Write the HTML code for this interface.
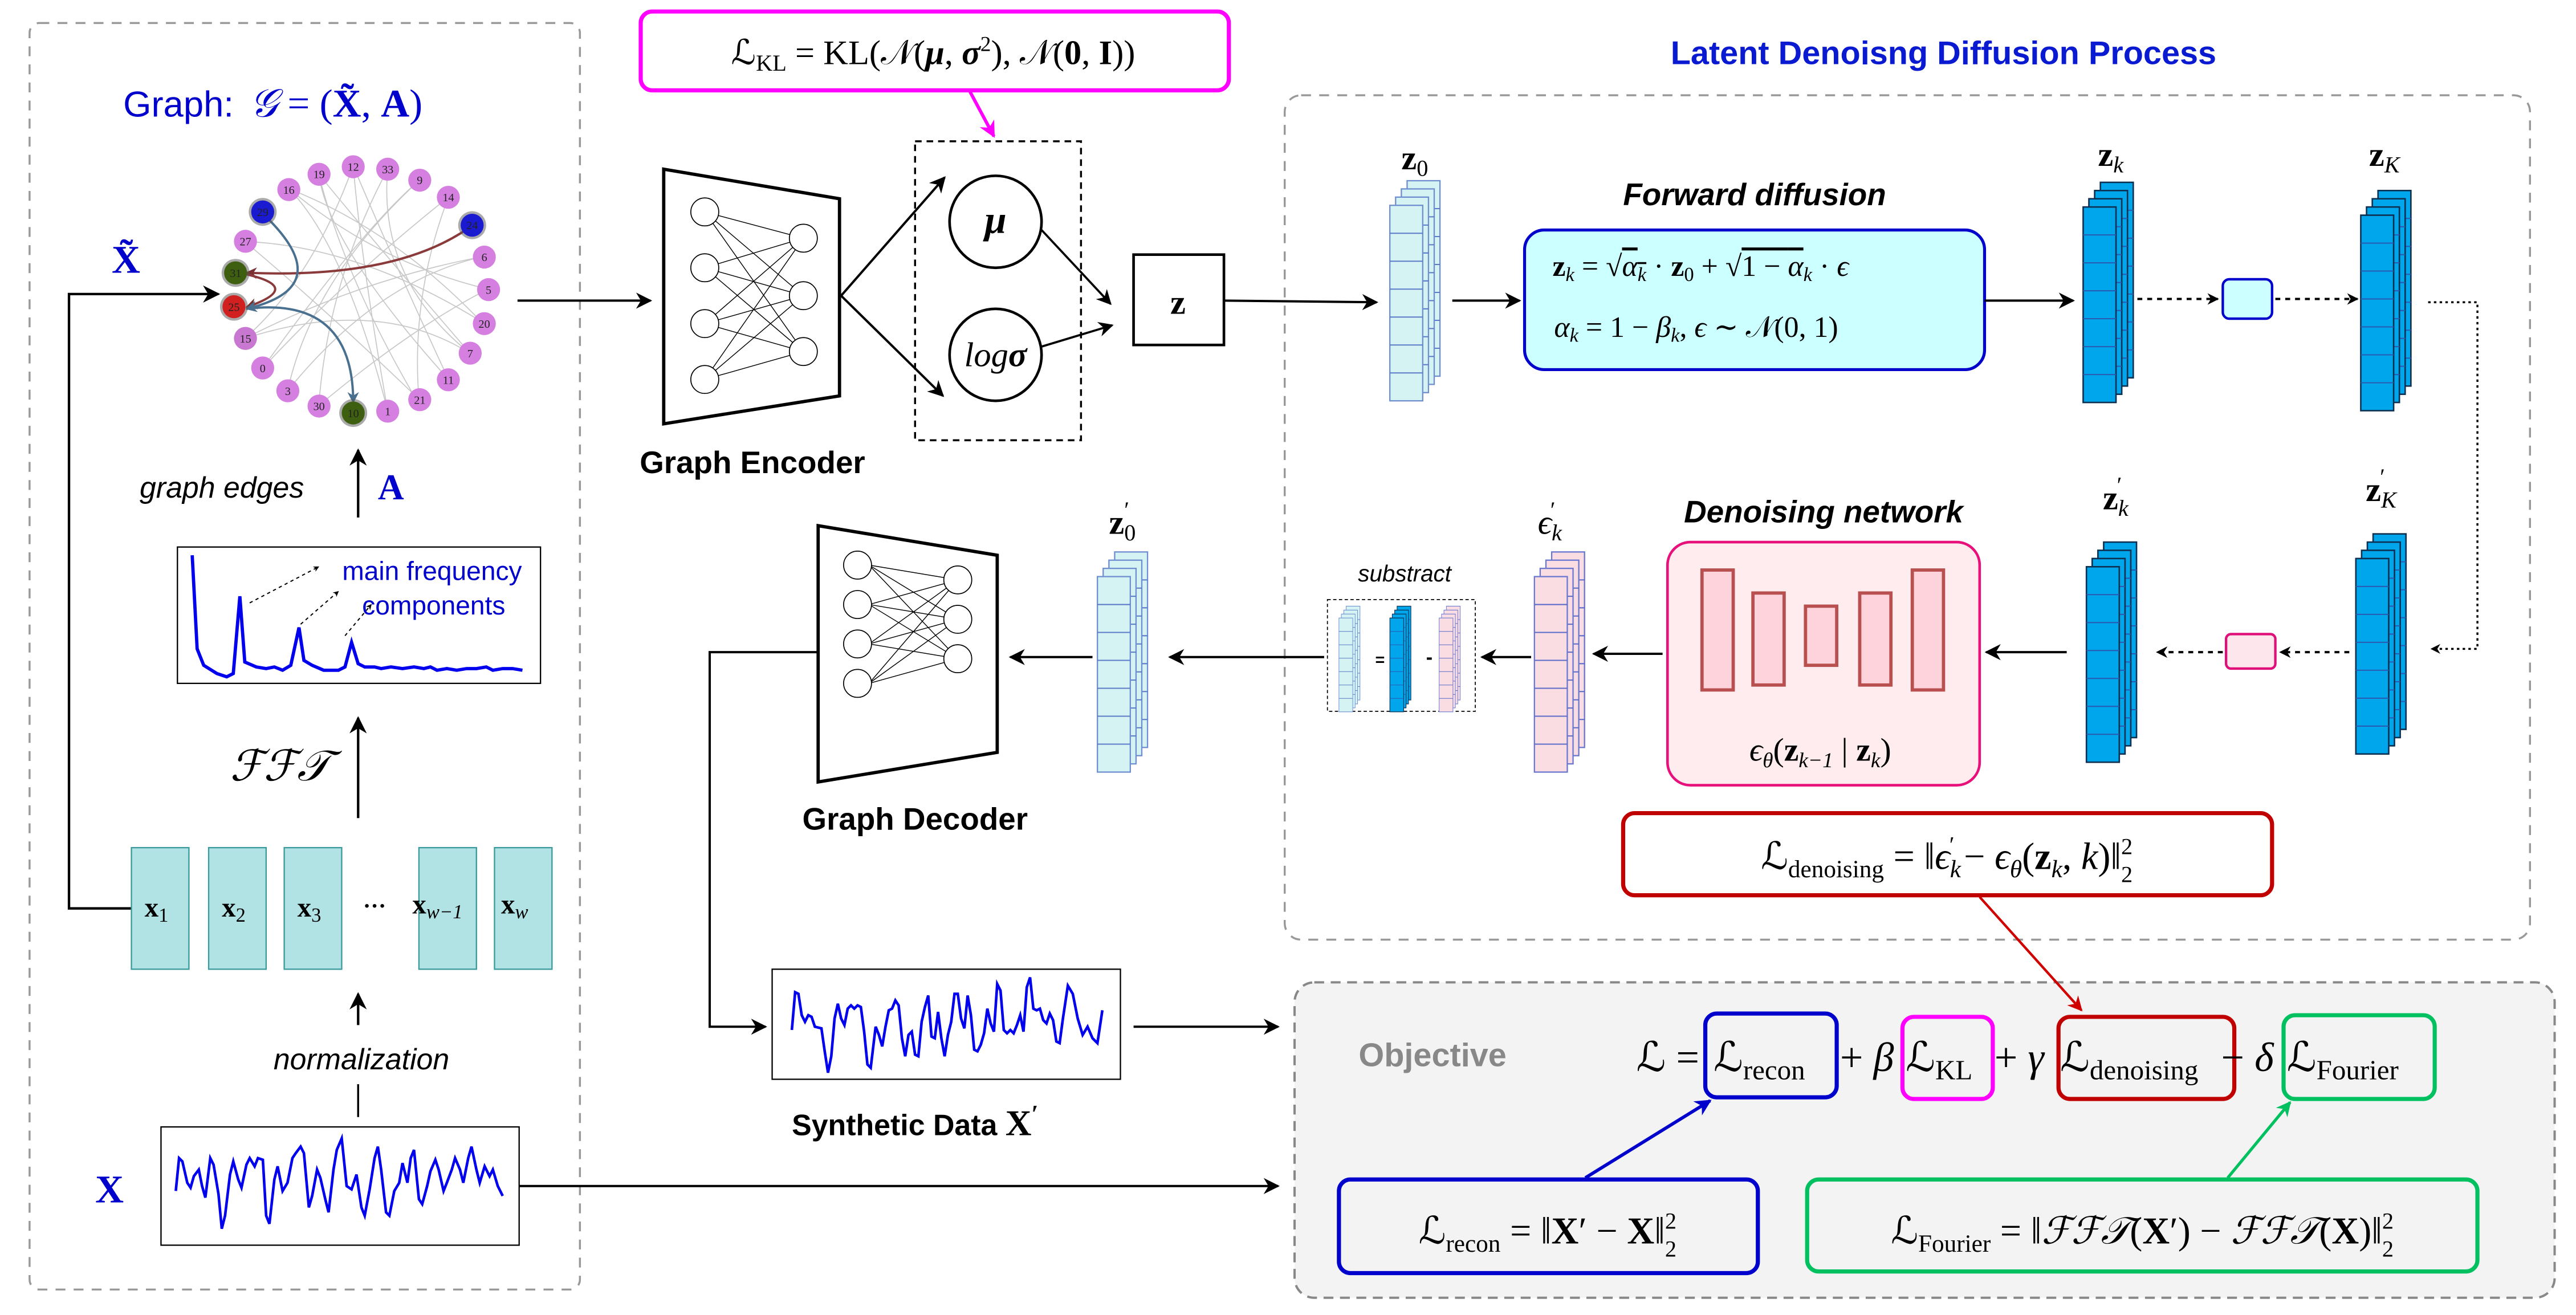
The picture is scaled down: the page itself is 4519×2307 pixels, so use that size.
<!DOCTYPE html>
<html><head><meta charset="utf-8"><style>
html,body{margin:0;padding:0;background:#fff;}
svg{display:block;}
.m{font-family:"Liberation Serif","DejaVu Serif",serif;}
.s{font-family:"Liberation Sans","DejaVu Sans",sans-serif;}
</style></head><body>
<svg width="4519" height="2307" viewBox="0 0 1568 800.5" preserveAspectRatio="none" xmlns="http://www.w3.org/2000/svg">
<defs>
<marker id="ah" viewBox="0 0 10 10" refX="9" refY="5" markerWidth="7" markerHeight="7" orient="auto-start-reverse"><path d="M0,0 L10,5 L0,10 L3,5 z" fill="#000"/></marker>
<marker id="ahs" viewBox="0 0 10 10" refX="9" refY="5" markerWidth="5" markerHeight="5" orient="auto"><path d="M0,0 L10,5 L0,10 L3,5 z" fill="#000"/></marker>
<marker id="ahm" viewBox="0 0 10 10" refX="9" refY="5" markerWidth="5" markerHeight="5" orient="auto"><path d="M0,0 L10,5 L0,10 L3,5 z" fill="#ff00ff"/></marker>
<marker id="ahr" viewBox="0 0 10 10" refX="9" refY="5" markerWidth="6" markerHeight="6" orient="auto"><path d="M0,0 L10,5 L0,10 L3,5 z" fill="#d00000"/></marker>
<marker id="ahb" viewBox="0 0 10 10" refX="9" refY="5" markerWidth="5" markerHeight="5" orient="auto"><path d="M0,0 L10,5 L0,10 L3,5 z" fill="#0000cc"/></marker>
<marker id="ahg" viewBox="0 0 10 10" refX="9" refY="5" markerWidth="5" markerHeight="5" orient="auto"><path d="M0,0 L10,5 L0,10 L3,5 z" fill="#00c060"/></marker>
<marker id="ahbr" viewBox="0 0 10 10" refX="9" refY="5" markerWidth="5" markerHeight="5" orient="auto"><path d="M0,0 L10,5 L0,10 L3,5 z" fill="#7a3030"/></marker>
<marker id="ahst" viewBox="0 0 10 10" refX="9" refY="5" markerWidth="5" markerHeight="5" orient="auto"><path d="M0,0 L10,5 L0,10 L3,5 z" fill="#4a7090"/></marker>
<g id="layL"><rect x="0" y="0" width="20" height="119" fill="#d6f3f3" stroke="#6f8fd0" stroke-width="0.8"/><path d="M0,17H20M0,34H20M0,51H20M0,68H20M0,85H20M0,102H20" stroke="#5a7ac8" stroke-width="0.7"/></g>
<g id="stkL"><use href="#layL" x="10.5" y="0"/><use href="#layL" x="7" y="5"/><use href="#layL" x="3.5" y="10"/><use href="#layL" x="0" y="15"/></g>
<g id="layB"><rect x="0" y="0" width="20" height="119" fill="#00a6ec" stroke="#0d2f50" stroke-width="0.9"/><path d="M0,17H20M0,34H20M0,51H20M0,68H20M0,85H20M0,102H20" stroke="#2a5ab0" stroke-width="0.7"/></g>
<g id="stkB"><use href="#layB" x="10.5" y="0"/><use href="#layB" x="7" y="5"/><use href="#layB" x="3.5" y="10"/><use href="#layB" x="0" y="15"/></g>
<g id="layP"><rect x="0" y="0" width="20" height="119" fill="#f9dde3" stroke="#6a78d0" stroke-width="0.8"/><path d="M0,17H20M0,34H20M0,51H20M0,68H20M0,85H20M0,102H20" stroke="#5a6ac8" stroke-width="0.7"/></g>
<g id="stkP"><use href="#layP" x="10.5" y="0"/><use href="#layP" x="7" y="5"/><use href="#layP" x="3.5" y="10"/><use href="#layP" x="0" y="15"/></g>
</defs>

<!-- Left dashed panel -->
<rect x="18" y="14" width="335" height="771" rx="6" fill="none" stroke="#999" stroke-width="1.2" stroke-dasharray="6,5"/>
<text x="75" y="71" class="s" font-size="22" fill="#0000cc">Graph:</text>
<text x="152" y="71" class="m" font-size="24" fill="#0000cc" font-style="italic">𝒢</text>
<text x="175" y="71" class="m" font-size="24" fill="#0000cc">= (<tspan font-weight="bold">X̃</tspan>, <tspan font-weight="bold">A</tspan>)</text>
<text x="68" y="166" class="m" font-size="24" fill="#0000cc" font-weight="bold">X̃</text>

<g stroke="#c8c8c8" stroke-width="0.6" fill="none">
<path d="M194,106 Q210,170 255,246"/><path d="M215,101 Q220,160 236,250"/><path d="M236,103 Q200,170 194,247"/>
<path d="M255,110 Q190,170 175,238"/><path d="M273,120 Q210,170 160,224"/><path d="M176,115 Q230,160 297,176"/>
<path d="M149,147 Q220,150 295,197"/><path d="M295,156 Q220,170 149,206"/><path d="M286,215 Q230,150 194,106"/>
<path d="M273,231 Q240,160 215,101"/><path d="M255,243 Q250,180 273,120"/><path d="M236,250 Q210,150 176,115"/>
<path d="M160,224 Q220,140 255,110"/><path d="M149,206 Q230,180 286,215"/><path d="M176,115 Q240,140 294,197"/>
<path d="M194,106 Q200,150 273,231"/><path d="M236,103 Q230,170 286,215"/><path d="M215,101 Q190,170 149,206"/>
<path d="M175,238 Q230,170 295,156"/><path d="M194,247 Q250,200 297,176"/><path d="M149,147 Q200,190 255,243"/>
</g>
<path d="M285,139 Q240,170 150,166" fill="none" stroke="#8a3a3a" stroke-width="1.4" marker-end="url(#ahbr)"/>
<path d="M150,167 Q185,175 150,187" fill="none" stroke="#8a3a3a" stroke-width="1.4" marker-end="url(#ahbr)"/>
<path d="M163,133 Q205,175 150,188" fill="none" stroke="#4a7090" stroke-width="1.4" marker-end="url(#ahst)"/>
<path d="M150,188 Q215,180 215,245" fill="none" stroke="#4a7090" stroke-width="1.4" marker-end="url(#ahst)"/>
<g class="m" font-size="7" text-anchor="middle" fill="#222">
<g fill="#d580e0">
<circle cx="194.2" cy="106.1" r="7"/><circle cx="215" cy="101.5" r="7"/><circle cx="236" cy="103" r="7"/><circle cx="255.5" cy="109.7" r="7"/>
<circle cx="272.9" cy="120.1" r="7"/><circle cx="294.8" cy="156.5" r="7"/><circle cx="297.4" cy="176.3" r="7"/><circle cx="294.8" cy="197" r="7"/>
<circle cx="286.2" cy="215" r="7"/><circle cx="272.9" cy="231.2" r="7"/><circle cx="255.5" cy="243.3" r="7"/><circle cx="236" cy="250.3" r="7"/>
<circle cx="194.2" cy="247.2" r="7"/><circle cx="175.2" cy="237.9" r="7"/><circle cx="159.9" cy="224" r="7"/><circle cx="149.4" cy="206" r="7" fill="#c878d0"/>
<circle cx="149.4" cy="146.9" r="7"/><circle cx="175.8" cy="115.4" r="7"/>
</g>
<circle cx="287.4" cy="137.1" r="8.5" fill="#555" opacity="0.5"/><circle cx="287.4" cy="137.1" r="7" fill="#1a1ad0"/>
<circle cx="159.9" cy="129" r="8.5" fill="#555" opacity="0.5"/><circle cx="159.9" cy="129" r="7" fill="#1a1ad0"/>
<circle cx="215" cy="251.4" r="8.5" fill="#555" opacity="0.5"/><circle cx="215" cy="251.4" r="7" fill="#3f5f10"/>
<circle cx="143.4" cy="166.1" r="8.5" fill="#555" opacity="0.5"/><circle cx="143.4" cy="166.1" r="7" fill="#3f5f10"/>
<circle cx="142.4" cy="186.7" r="8.5" fill="#555" opacity="0.5"/><circle cx="142.4" cy="186.7" r="7" fill="#d02020"/>
<text x="194.2" y="108.5">19</text><text x="215" y="104">12</text><text x="236" y="105.5">33</text><text x="255.5" y="112">9</text>
<text x="272.9" y="122.5">14</text><text x="287.4" y="139.5">24</text><text x="294.8" y="159">6</text><text x="297.4" y="178.8">5</text>
<text x="294.8" y="199.5">20</text><text x="286.2" y="217.5">7</text><text x="272.9" y="233.7">11</text><text x="255.5" y="245.8">21</text>
<text x="236" y="252.8">1</text><text x="215" y="254">10</text><text x="194.2" y="249.7">30</text><text x="175.2" y="240.4">3</text>
<text x="159.9" y="226.5">0</text><text x="149.4" y="208.5">15</text><text x="142.4" y="189.2">25</text><text x="143.4" y="168.6">31</text>
<text x="149.4" y="149.4">27</text><text x="159.9" y="131.5">29</text><text x="175.8" y="118">16</text>
</g>

<polyline points="80,553 42,553 42,179 133,179" fill="none" stroke="#000" stroke-width="1.5" marker-end="url(#ah)"/>
<line x1="218" y1="315" x2="218" y2="274" stroke="#000" stroke-width="1.5" marker-end="url(#ah)"/>
<text x="85" y="303" class="s" font-size="18" font-style="italic">graph edges</text>
<text x="230" y="304" class="m" font-size="22" font-weight="bold" fill="#0000cc">A</text>

<rect x="108" y="333" width="221" height="83" fill="#fff" stroke="#000" stroke-width="0.8"/>
<polyline points="117,338 120,395 124,405 132,410 138,412 142,410 146,363 149,403 156,406 162,407 167,406 172,408 177,405 182,382 185,402 190,405 197,408 206,408 210,406 214,391 218,404 222,406 228,406 232,407 238,406 245,407 252,406 258,407 262,406 266,408 272,407 278,408 284,407 290,407 296,406 300,408 306,407 312,407 318,408" fill="none" stroke="#0000ee" stroke-width="2"/>
<text x="263" y="353" class="s" font-size="16" fill="#0000cc" text-anchor="middle">main frequency</text>
<text x="264" y="374" class="s" font-size="16" fill="#0000cc" text-anchor="middle">components</text>
<g stroke="#000" stroke-width="0.7" stroke-dasharray="2,2" fill="none">
<line x1="152" y1="367" x2="194" y2="345" marker-end="url(#ahs)"/>
<line x1="183" y1="380" x2="206" y2="360" marker-end="url(#ahs)"/>
<line x1="210" y1="387" x2="226" y2="368" marker-end="url(#ahs)"/>
</g>

<line x1="218" y1="498" x2="218" y2="437" stroke="#000" stroke-width="1.5" marker-end="url(#ah)"/>
<text x="140" y="475" class="m" font-size="26" font-style="italic">ℱℱ𝒯</text>

<g fill="#b1e2e4" stroke="#3a9a9c" stroke-width="0.8">
<rect x="80" y="516" width="35" height="74"/><rect x="127" y="516" width="35" height="74"/><rect x="173" y="516" width="35" height="74"/>
<rect x="255" y="516" width="35" height="74"/><rect x="301" y="516" width="35" height="74"/>
</g>
<g class="m" font-size="17" font-weight="bold">
<text x="88" y="558">x<tspan font-size="12" font-weight="normal" dy="3">1</tspan></text>
<text x="135" y="558">x<tspan font-size="12" font-weight="normal" dy="3">2</tspan></text>
<text x="181" y="558">x<tspan font-size="12" font-weight="normal" dy="3">3</tspan></text>
<text x="221" y="556" font-size="14">···</text>
<text x="251" y="556">x<tspan font-size="12" font-weight="normal" font-style="italic" dy="3">w−1</tspan></text>
<text x="305" y="556">x<tspan font-size="12" font-weight="normal" font-style="italic" dy="3">w</tspan></text>
</g>

<line x1="218" y1="624" x2="218" y2="605" stroke="#000" stroke-width="1.5" marker-end="url(#ah)"/>
<text x="220" y="651" class="s" font-size="18" font-style="italic" text-anchor="middle">normalization</text>
<line x1="218" y1="660" x2="218" y2="680" stroke="#000" stroke-width="1.2"/>

<text x="58" y="732" class="m" font-size="24" font-weight="bold" fill="#0000cc">X</text>
<rect x="98" y="686" width="218" height="72" fill="#fff" stroke="#000" stroke-width="0.8"/>
<polyline points="107,725 109,705 111,707 114,720 116,723 118,716 121,712 123,722 125,729 128,705 130,709 133,727 135,748 137,740 140,715 142,707 145,718 147,723 150,709 152,705 155,710 157,705 160,706 162,740 164,745 167,718 169,710 172,725 175,720 178,705 180,702 183,698 185,702 188,735 190,728 193,712 195,717 198,730 200,738 203,712 205,700 208,693 211,722 214,724 217,715 220,735 222,740 225,724 228,705 230,698 232,712 235,738 237,740 240,725 243,720 245,708 248,720 250,705 252,700 255,730 257,733 260,722 262,713 265,706 267,712 270,725 272,720 275,712 277,705 280,712 282,720 285,705 287,698 290,712 292,720 295,710 298,716 300,712 303,722 306,728" fill="none" stroke="#0000ee" stroke-width="1.6"/>
<line x1="316" y1="722" x2="778" y2="722" stroke="#000" stroke-width="1.4" marker-end="url(#ah)"/>

<rect x="390" y="7" width="358" height="48" rx="7" fill="#fff" stroke="#ff00ff" stroke-width="2.5"/>
<text x="568" y="39" class="m" font-size="21" text-anchor="middle">ℒ<tspan font-size="14" dy="4">KL</tspan><tspan dy="-4"> = KL(𝒩(<tspan font-weight="bold" font-style="italic">μ</tspan>, <tspan font-weight="bold" font-style="italic">σ</tspan><tspan font-size="13" dy="-8">2</tspan><tspan dy="8">), 𝒩(</tspan><tspan font-weight="bold">0</tspan>, <tspan font-weight="bold">I</tspan>))</tspan></text>
<line x1="590" y1="55" x2="605" y2="83" stroke="#ff00ff" stroke-width="2" marker-end="url(#ahm)"/>

<line x1="315" y1="183" x2="396" y2="183" stroke="#000" stroke-width="1.4" marker-end="url(#ah)"/>

<polygon points="404,103 511,121 511,241 404,258" fill="#fff" stroke="#000" stroke-width="2"/>
<g stroke="#000" stroke-width="0.5" fill="none">
<path d="M429,129L489,145M429,129L489,180M429,129L489,214M429,163L489,145M429,163L489,180M429,163L489,214M429,197L489,145M429,197L489,180M429,197L489,214M429,231L489,145M429,231L489,180M429,231L489,214"/>
</g>
<g fill="#fff" stroke="#000" stroke-width="0.6">
<circle cx="429" cy="129" r="8.5"/><circle cx="429" cy="163" r="8.5"/><circle cx="429" cy="197" r="8.5"/><circle cx="429" cy="231" r="8.5"/>
<circle cx="489" cy="145" r="8.5"/><circle cx="489" cy="180" r="8.5"/><circle cx="489" cy="214" r="8.5"/>
</g>
<text x="458" y="288" class="s" font-size="19" font-weight="bold" text-anchor="middle">Graph Encoder</text>

<rect x="557" y="86" width="101" height="182" fill="none" stroke="#000" stroke-width="1.2" stroke-dasharray="4,3"/>
<circle cx="606" cy="135" r="28" fill="#fff" stroke="#000" stroke-width="1.6"/>
<circle cx="606" cy="216" r="28" fill="#fff" stroke="#000" stroke-width="1.6"/>
<text x="606" y="142" class="m" font-size="24" font-style="italic" font-weight="bold" text-anchor="middle">μ</text>
<text x="606" y="223" class="m" font-size="21" font-style="italic" text-anchor="middle">log<tspan font-weight="bold">σ</tspan></text>
<line x1="512" y1="180" x2="575" y2="108" stroke="#000" stroke-width="1.4" marker-end="url(#ah)"/>
<line x1="512" y1="180" x2="574" y2="241" stroke="#000" stroke-width="1.4" marker-end="url(#ah)"/>
<line x1="634" y1="140" x2="676" y2="185" stroke="#000" stroke-width="1.3" marker-end="url(#ah)"/>
<line x1="634" y1="211" x2="677" y2="198" stroke="#000" stroke-width="1.3" marker-end="url(#ah)"/>
<rect x="690" y="155" width="55" height="55" fill="#fff" stroke="#000" stroke-width="1.6"/>
<text x="717" y="191" class="m" font-size="21" font-weight="bold" text-anchor="middle">z</text>
<line x1="745" y1="183" x2="838" y2="184" stroke="#000" stroke-width="1.4" marker-end="url(#ah)"/>

<text x="1183" y="39" class="s" font-size="20" font-weight="bold" fill="#0a1ad0" text-anchor="middle">Latent Denoisng Diffusion Process</text>
<rect x="782" y="58" width="758" height="514" rx="10" fill="none" stroke="#999" stroke-width="1.2" stroke-dasharray="6,5"/>

<text x="853" y="103" class="m" font-size="21" font-weight="bold">z<tspan font-size="14" font-weight="normal" dy="4">0</tspan></text>
<use href="#stkL" x="846" y="110"/>
<line x1="884" y1="183" x2="925" y2="183" stroke="#000" stroke-width="1.4" marker-end="url(#ah)"/>

<text x="1068" y="125" class="s" font-size="19" font-weight="bold" font-style="italic" text-anchor="middle">Forward diffusion</text>
<rect x="928" y="140" width="280" height="85" rx="12" fill="#ccffff" stroke="#0000cc" stroke-width="1.8"/>
<text x="945" y="168" class="m" font-size="18"><tspan font-weight="bold">z</tspan><tspan font-size="12" font-style="italic" dy="3">k</tspan><tspan dy="-3"> = √<tspan text-decoration="overline" font-style="italic">α<tspan font-size="12" dy="3">k</tspan></tspan></tspan><tspan dy="-3"> · <tspan font-weight="bold">z</tspan></tspan><tspan font-size="12" dy="3">0</tspan><tspan dy="-3"> + √<tspan text-decoration="overline">1 − <tspan font-style="italic">α</tspan></tspan></tspan><tspan font-size="12" font-style="italic" dy="3">k</tspan><tspan dy="-3"> · <tspan font-style="italic">ϵ</tspan></tspan></text>
<text x="946" y="205" class="m" font-size="18"><tspan font-style="italic">α</tspan><tspan font-size="12" font-style="italic" dy="3">k</tspan><tspan dy="-3"> = 1 − <tspan font-style="italic">β</tspan></tspan><tspan font-size="12" font-style="italic" dy="3">k</tspan><tspan dy="-3">, <tspan font-style="italic">ϵ</tspan> ∼ 𝒩(0, 1)</tspan></text>
<line x1="1208" y1="183" x2="1262" y2="183" stroke="#000" stroke-width="1.4" marker-end="url(#ah)"/>

<text x="1277" y="101" class="m" font-size="21" font-weight="bold">z<tspan font-size="14" font-weight="normal" font-style="italic" dy="4">k</tspan></text>
<use href="#stkB" x="1268" y="111"/>
<line x1="1301" y1="182" x2="1350" y2="182" stroke="#000" stroke-width="1.4" stroke-dasharray="3,3" marker-end="url(#ahs)"/>
<rect x="1353" y="170" width="30" height="24" rx="4" fill="#ccffff" stroke="#0000cc" stroke-width="1.5"/>
<line x1="1385" y1="182" x2="1435" y2="182" stroke="#000" stroke-width="1.4" stroke-dasharray="3,3" marker-end="url(#ahs)"/>
<text x="1442" y="101" class="m" font-size="21" font-weight="bold">z<tspan font-size="14" font-weight="normal" font-style="italic" dy="4">K</tspan></text>
<use href="#stkB" x="1437" y="116"/>
<polyline points="1478,184 1508,184 1508,395 1480,395" fill="none" stroke="#000" stroke-width="1.2" stroke-dasharray="1.5,2" marker-end="url(#ahs)"/>

<text x="1440" y="305" class="m" font-size="21" font-weight="bold">z<tspan font-size="14" font-weight="normal" font-style="italic" dy="4">K</tspan><tspan font-size="14" font-weight="normal" dx="-10" dy="-14">′</tspan></text>
<use href="#stkB" x="1434" y="325"/>
<line x1="1430" y1="397" x2="1388" y2="397" stroke="#000" stroke-width="1.4" stroke-dasharray="3,3" marker-end="url(#ahs)"/>
<rect x="1355" y="386" width="30" height="21" rx="3" fill="#fde7ec" stroke="#e0107a" stroke-width="1.5"/>
<line x1="1353" y1="397" x2="1313" y2="397" stroke="#000" stroke-width="1.4" stroke-dasharray="3,3" marker-end="url(#ahs)"/>

<text x="1280" y="310" class="m" font-size="21" font-weight="bold">z<tspan font-size="14" font-weight="normal" font-style="italic" dy="4">k</tspan><tspan font-size="14" font-weight="normal" dx="-7" dy="-14">′</tspan></text>
<use href="#stkB" x="1270" y="330"/>
<line x1="1258" y1="397" x2="1209" y2="397" stroke="#000" stroke-width="1.4" marker-end="url(#ah)"/>

<text x="1110" y="318" class="s" font-size="19" font-weight="bold" font-style="italic" text-anchor="middle">Denoising network</text>
<rect x="1015" y="330" width="190" height="148" rx="14" fill="#feecee" stroke="#e8107a" stroke-width="1.6"/>
<g fill="#ffd3dc" stroke="#b85050" stroke-width="2">
<rect x="1036" y="347" width="19" height="73"/><rect x="1067" y="361" width="19" height="56"/><rect x="1099" y="369" width="19" height="36"/>
<rect x="1132" y="361" width="19" height="56"/><rect x="1164" y="347" width="19" height="73"/>
</g>
<text x="1108" y="463" class="m" font-size="20" text-anchor="middle"><tspan font-style="italic">ϵ</tspan><tspan font-size="13" font-style="italic" dy="4">θ</tspan><tspan dy="-4">(<tspan font-weight="bold">z</tspan></tspan><tspan font-size="13" font-style="italic" dy="4">k−1</tspan><tspan dy="-4"> | <tspan font-weight="bold">z</tspan></tspan><tspan font-size="13" font-style="italic" dy="4">k</tspan><tspan dy="-4">)</tspan></text>
<line x1="1012" y1="398" x2="970" y2="398" stroke="#000" stroke-width="1.4" marker-end="url(#ah)"/>

<text x="936" y="325" class="m" font-size="21" font-style="italic">ϵ<tspan font-size="14" dy="4">k</tspan><tspan font-size="14" font-style="normal" dx="-7" dy="-14">′</tspan></text>
<use href="#stkP" x="934" y="336"/>
<line x1="932" y1="400" x2="902" y2="400" stroke="#000" stroke-width="1.4" marker-end="url(#ah)"/>

<text x="855" y="354" class="s" font-size="14" font-style="italic" text-anchor="middle">substract</text>
<rect x="808" y="365" width="90" height="68" fill="#fff" stroke="#000" stroke-width="0.6" stroke-dasharray="2,1.5"/>
<g transform="translate(815,369) scale(0.42,0.48)"><use href="#stkL"/></g>
<g transform="translate(846,369) scale(0.42,0.48)"><use href="#stkB"/></g>
<g transform="translate(876,369) scale(0.42,0.48)"><use href="#stkP"/></g>
<text x="840" y="405" class="s" font-size="10" font-weight="bold" text-anchor="middle">=</text>
<text x="870" y="404" class="s" font-size="12" font-weight="bold" text-anchor="middle">-</text>
<line x1="806" y1="400" x2="712" y2="400" stroke="#000" stroke-width="1.4" marker-end="url(#ah)"/>

<text x="675" y="325" class="m" font-size="21" font-weight="bold">z<tspan font-size="14" font-weight="normal" dy="4">0</tspan><tspan font-size="14" font-weight="normal" dx="-7" dy="-14">′</tspan></text>
<use href="#stkL" x="668" y="336"/>
<line x1="665" y1="400" x2="615" y2="400" stroke="#000" stroke-width="1.4" marker-end="url(#ah)"/>

<polygon points="498,320 607,338 607,458 498,476" fill="#fff" stroke="#000" stroke-width="2"/>
<g stroke="#000" stroke-width="0.5">
<path d="M583,353L529,344M583,353L529,368M583,353L529,392M583,353L529,416M583,377L529,344M583,377L529,368M583,377L529,392M583,377L529,416M583,401L529,344M583,401L529,368M583,401L529,392M583,401L529,416"/>
</g>
<g fill="#fff" stroke="#000" stroke-width="0.6">
<circle cx="522" cy="344" r="8.5"/><circle cx="522" cy="368" r="8.5"/><circle cx="522" cy="392" r="8.5"/><circle cx="522" cy="416" r="8.5"/>
<circle cx="583" cy="353" r="8.5"/><circle cx="583" cy="377" r="8.5"/><circle cx="583" cy="401" r="8.5"/>
</g>
<text x="557" y="505" class="s" font-size="19" font-weight="bold" text-anchor="middle">Graph Decoder</text>
<polyline points="498,397 432,397 432,625 466,625" fill="none" stroke="#000" stroke-width="1.4" marker-end="url(#ah)"/>

<rect x="470" y="590" width="212" height="67" fill="#fff" stroke="#000" stroke-width="0.8"/>
<polyline points="482,627 484,604 486,605 488,618 490,622 492,618 494,619 496,625 500,626 502,640 504,653 506,643 508,620 510,611 512,620 514,624 516,614 518,612 520,614 522,612 524,613 526,628 528,648 530,650 533,625 535,630 537,637 539,625 541,615 543,614 545,609 547,612 549,632 551,643 553,630 555,628 557,642 559,643 561,622 563,613 565,606 567,631 569,632 571,616 573,632 575,643 577,630 579,622 581,605 583,605 585,620 587,626 589,606 591,618 593,639 595,640 597,636 599,629 601,614 603,623 605,628 607,599 609,603 611,627 613,629 615,627 617,629 619,624 621,618 623,628 625,601 627,595 629,614 631,615 633,614 635,621 637,623 639,617 641,621 643,634 645,635 647,620 650,600 653,605 656,620 659,630 662,625 665,632 668,635 671,615" fill="none" stroke="#0000ee" stroke-width="1.6"/>
<text x="482" y="691" class="s" font-size="18" font-weight="bold">Synthetic Data <tspan class="m" font-size="22">X</tspan><tspan class="m" font-size="15" dy="-8">′</tspan></text>
<line x1="690" y1="625" x2="778" y2="625" stroke="#000" stroke-width="1.4" marker-end="url(#ah)"/>

<rect x="988" y="495" width="395" height="50" rx="7" fill="#fff" stroke="#c00000" stroke-width="2.5"/>
<text x="1185" y="529" class="m" font-size="23" text-anchor="middle">ℒ<tspan font-size="15" dy="5">denoising</tspan><tspan dy="-5"> = ‖<tspan font-style="italic">ϵ</tspan></tspan><tspan font-size="15" font-style="italic" dy="5">k</tspan><tspan font-size="14" dx="-7" dy="-15">′</tspan><tspan dy="10"> − <tspan font-style="italic">ϵ</tspan></tspan><tspan font-size="15" font-style="italic" dy="5">θ</tspan><tspan dy="-5">(<tspan font-weight="bold">z</tspan></tspan><tspan font-size="15" font-style="italic" dy="5">k</tspan><tspan dy="-5">, <tspan font-style="italic">k</tspan>)‖</tspan><tspan font-size="14" dy="-9">2</tspan><tspan font-size="14" dx="-7" dy="17">2</tspan></text>

<!-- Objective panel -->
<rect x="788" y="598" width="767" height="192" rx="12" fill="#f3f3f3" stroke="#888" stroke-width="1.4" stroke-dasharray="6,4"/>
<text x="872" y="649" class="s" font-size="20" font-weight="bold" fill="#888" text-anchor="middle">Objective</text>
<rect x="1038" y="617" width="80" height="51" rx="7" fill="none" stroke="#0000cc" stroke-width="2.5"/>
<rect x="1158" y="619" width="55" height="50" rx="7" fill="none" stroke="#ff00ff" stroke-width="2.5"/>
<rect x="1253" y="619" width="107" height="50" rx="7" fill="none" stroke="#c00000" stroke-width="2.5"/>
<rect x="1390" y="618" width="92" height="51" rx="7" fill="none" stroke="#00c060" stroke-width="2.5"/>
<g class="m" font-size="25">
<text x="996" y="652">ℒ =</text>
<text x="1043" y="652">ℒ<tspan font-size="17" dy="5">recon</tspan></text>
<text x="1120" y="652">+ <tspan font-style="italic">β</tspan></text>
<text x="1160" y="652">ℒ<tspan font-size="17" dy="5">KL</tspan></text>
<text x="1214" y="652">+ <tspan font-style="italic">γ</tspan></text>
<text x="1254" y="652">ℒ<tspan font-size="17" dy="5">denoising</tspan></text>
<text x="1352" y="652">− <tspan font-style="italic">δ</tspan></text>
<text x="1392" y="652">ℒ<tspan font-size="17" dy="5">Fourier</tspan></text>
</g>
<line x1="1205" y1="546" x2="1267" y2="615" stroke="#d00000" stroke-width="1.5" marker-end="url(#ahr)"/>

<rect x="815" y="718" width="255" height="57" rx="7" fill="none" stroke="#0000cc" stroke-width="2.5"/>
<text x="942" y="757" class="m" font-size="23" text-anchor="middle">ℒ<tspan font-size="15" dy="5">recon</tspan><tspan dy="-5"> = ‖<tspan font-weight="bold">X</tspan>′ − <tspan font-weight="bold">X</tspan>‖</tspan><tspan font-size="14" dy="-9">2</tspan><tspan font-size="14" dx="-7" dy="17">2</tspan></text>
<line x1="965" y1="717" x2="1041" y2="670" stroke="#0000cc" stroke-width="2" marker-end="url(#ahb)"/>

<rect x="1100" y="718" width="408" height="56" rx="7" fill="none" stroke="#00c060" stroke-width="2.5"/>
<text x="1304" y="757" class="m" font-size="23" text-anchor="middle">ℒ<tspan font-size="15" dy="5">Fourier</tspan><tspan dy="-5"> = ‖<tspan font-style="italic">ℱℱ𝒯</tspan>(<tspan font-weight="bold">X</tspan>′) − <tspan font-style="italic">ℱℱ𝒯</tspan>(<tspan font-weight="bold">X</tspan>)‖</tspan><tspan font-size="14" dy="-9">2</tspan><tspan font-size="14" dx="-7" dy="17">2</tspan></text>
<line x1="1356" y1="717" x2="1394" y2="671" stroke="#00c060" stroke-width="1.8" marker-end="url(#ahg)"/>
</svg>
</body></html>
